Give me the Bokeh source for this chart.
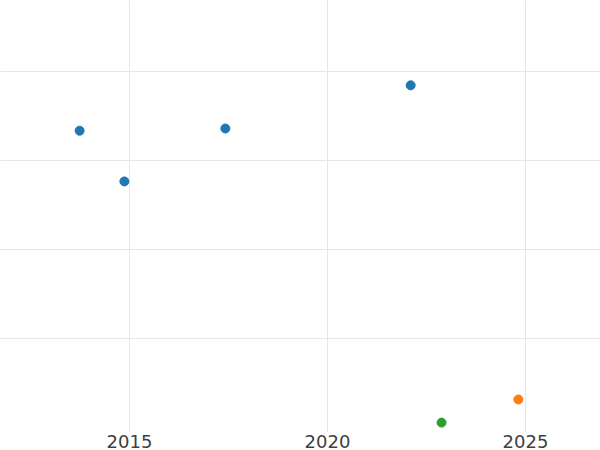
from bokeh.plotting import figure
from bokeh.models import FixedTicker, ColumnDataSource
from bokeh.embed import file_html
from bokeh.resources import INLINE

# data
years_a = [2013.74, 2014.87, 2017.42, 2022.10]
values_a = [66.7, 55.3, 67.2, 76.9]
years_b = [2024.82]
values_b = [6.3]
years_c = [2022.88]
values_c = [1.1]
series_colors = ["#1f77b4", "#ff7f0e", "#2ca02c"]
x_ticks = [2015, 2020, 2025]
y_ticks = [20, 40, 60, 80]

p = figure(width=600, height=450, output_backend="svg", toolbar_location=None,
           x_range=(2011.742, 2026.894), y_range=(-1.12, 95.96),
           min_border=0, min_border_bottom=0)
p.outline_line_color = None
p.background_fill_color = "white"
p.border_fill_color = "white"

for xs, ys, c in [(years_a, values_a, series_colors[0]),
                  (years_b, values_b, series_colors[1]),
                  (years_c, values_c, series_colors[2])]:
    src = ColumnDataSource(dict(x=xs, y=ys))
    p.scatter("x", "y", source=src, size=9, color=c, line_color=c)

p.xaxis.ticker = FixedTicker(ticks=x_ticks)
p.yaxis.ticker = FixedTicker(ticks=y_ticks)
p.yaxis.visible = False
p.xaxis.axis_line_color = None
p.xaxis.major_tick_line_color = None
p.xaxis.minor_tick_line_color = None
p.xaxis.major_tick_out = 0
p.xaxis.major_label_standoff = 2
p.xaxis.major_label_text_font = "DejaVu Sans"
p.xaxis.major_label_text_font_size = "18px"
p.xaxis.major_label_text_color = "#404040"
p.xgrid.ticker = FixedTicker(ticks=x_ticks)
p.ygrid.ticker = FixedTicker(ticks=y_ticks)
p.xgrid.grid_line_color = "#e6e6e6"
p.ygrid.grid_line_color = "#e6e6e6"

open("out.html", "w").write(file_html(p, INLINE))
